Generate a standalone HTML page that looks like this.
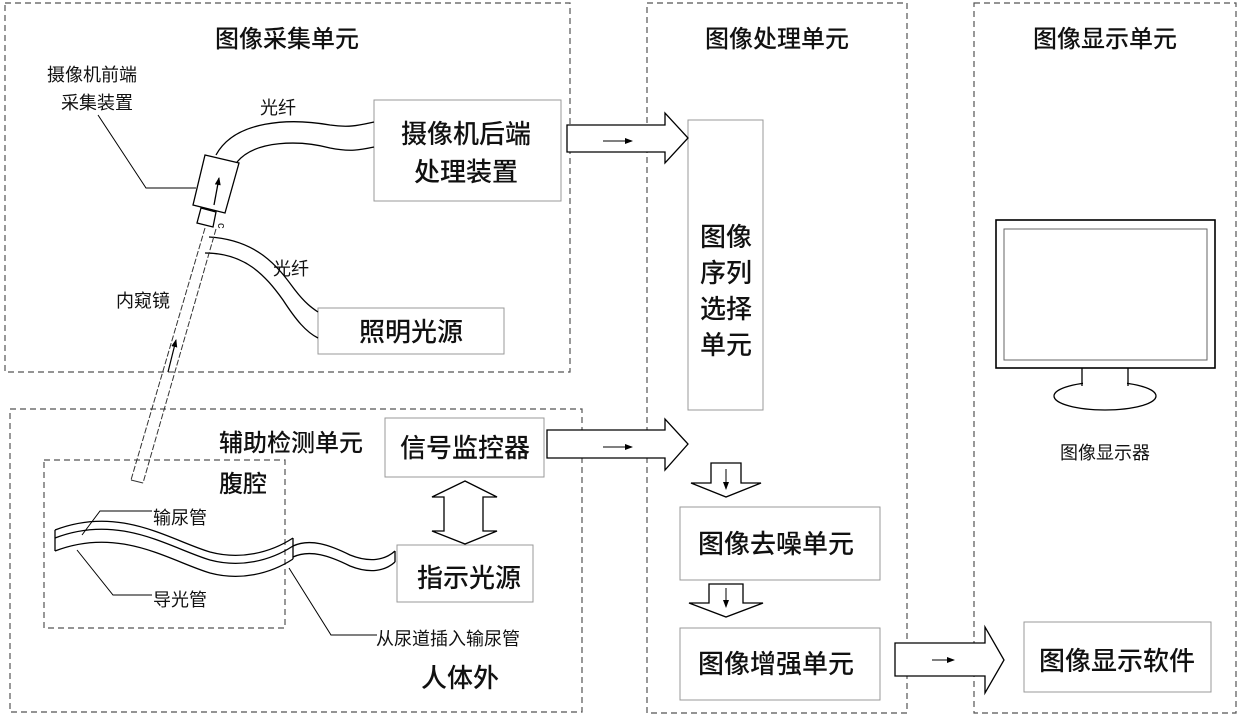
<!DOCTYPE html>
<html><head><meta charset="utf-8"><style>
html,body{margin:0;padding:0;background:#fff;}
svg{display:block;}
text{font-family:"Liberation Sans","Noto Sans CJK SC",sans-serif;fill:#111;}
</style></head><body>
<svg width="1240" height="719" viewBox="0 0 1240 719" xmlns="http://www.w3.org/2000/svg">
<defs>
<marker id="ah" markerWidth="8" markerHeight="6" refX="7" refY="3" orient="auto" markerUnits="userSpaceOnUse"><path d="M0,0 L8,3 L0,6 z" fill="#000"/></marker>
</defs>
<g fill="none" stroke="#555" stroke-width="1.2" stroke-dasharray="6,4">
<rect x="5" y="3" width="565" height="369"/>
<rect x="647" y="3" width="260" height="710"/>
<rect x="974" y="3" width="262" height="710"/>
<rect x="10" y="409" width="572" height="303"/>
<rect x="44" y="460" width="241" height="168"/>
</g>
<g font-size="24" text-anchor="middle" font-weight="500">
<text x="287" y="47">图像采集单元</text>
<text x="777" y="47">图像处理单元</text>
<text x="1105" y="47">图像显示单元</text>
<text x="291" y="451">辅助检测单元</text>
<text x="243" y="492">腹腔</text>
</g>
<g fill="none" stroke="#999" stroke-width="1">
<rect x="374" y="100" width="187" height="101"/>
<rect x="318" y="308" width="186" height="46"/>
<rect x="688" y="120" width="75" height="290"/>
<rect x="680" y="507" width="200" height="73"/>
<rect x="680" y="628" width="200" height="72"/>
<rect x="385" y="418" width="159" height="59"/>
<rect x="397" y="545" width="136" height="57"/>
<rect x="1024" y="622" width="187" height="70"/>
</g>
<g font-size="26" text-anchor="middle" font-weight="500">
<text x="466" y="143">摄像机后端</text>
<text x="466" y="181">处理装置</text>
<text x="411" y="341">照明光源</text>
<text x="726" y="246">图像</text>
<text x="726" y="282">序列</text>
<text x="726" y="318">选择</text>
<text x="726" y="354">单元</text>
<text x="776" y="553">图像去噪单元</text>
<text x="776" y="673">图像增强单元</text>
<text x="465" y="457">信号监控器</text>
<text x="469" y="587">指示光源</text>
<text x="1117" y="670">图像显示软件</text>
<text x="460" y="687">人体外</text>
</g>
<g font-size="18">
<text x="47" y="81">摄像机前端</text>
<text x="61" y="109">采集装置</text>
<text x="260" y="114">光纤</text>
<text x="273" y="275">光纤</text>
<text x="116" y="307">内窥镜</text>
<text x="153" y="524">输尿管</text>
<text x="153" y="606">导光管</text>
<text x="376" y="645">从尿道插入输尿管</text>
<text x="1105" y="459" text-anchor="middle">图像显示器</text>
</g>
<g fill="none" stroke="#000" stroke-width="1.3">
<polygon points="205,155 239,163 225,213 193,205" fill="#fff"/>
<polygon points="201,208 216,212 213,227 197,223" fill="#fff"/>
<line x1="214" y1="205" x2="219" y2="178" marker-end="url(#ah)"/>
<path d="M216,155 C235,120 290,118 330,125 C350,128 360,125 374,122"/>
<path d="M237,162 C255,140 300,140 330,148 C350,152 360,150 374,147"/>
<path d="M209,237 C260,240 280,270 295,290 C305,303 312,308 318,312"/>
<path d="M205,253 C245,253 265,275 283,300 C296,320 306,332 318,338"/>
<polyline points="98,115 146,188 196,188" stroke-width="1"/>
</g>
<text x="220" y="229" font-size="11" transform="rotate(90 222 225)">c</text>
<g fill="none" stroke="#333" stroke-width="1" stroke-dasharray="6,2">
<line x1="205" y1="228" x2="131" y2="480"/>
<line x1="216" y1="229" x2="143" y2="483"/>
</g>
<line x1="131" y1="480" x2="143" y2="483" stroke="#333"/>
<line x1="168" y1="372" x2="176" y2="340" stroke="#000" stroke-width="1.2" marker-end="url(#ah)"/>
<g fill="none" stroke="#000" stroke-width="1.3">
<path d="M55,530 C120,505 170,540 210,552 C240,560 270,553 293,538"/>
<path d="M55,538 C120,513 170,548 210,560 C240,568 270,561 293,546"/>
<path d="M55,551 C120,526 170,561 210,573 C240,581 270,574 293,559"/>
<line x1="55" y1="530" x2="55" y2="551"/>
<line x1="293" y1="538" x2="293" y2="559"/>
<path d="M293,546 C310,538 330,545 350,555 C370,563 385,560 395,551"/>
<path d="M293,557 C310,549 330,556 350,566 C370,574 385,571 395,562"/>
<line x1="395" y1="551" x2="395" y2="562"/>
</g>
<g fill="none" stroke="#000" stroke-width="1">
<polyline points="152,511 100,511 82,535"/>
<polyline points="152,595 113,595 77,550"/>
<polyline points="377,635 331,635 289,568"/>
</g>
<g fill="#fff" stroke="#000" stroke-width="1.3">
<polygon points="567,125 665,125 665,113 688,138 665,163 665,152 567,152"/>
<polygon points="547,430 665,430 665,419 688,444 665,470 665,458 547,458"/>
<polygon points="895,643 985,643 985,627 1004,660 985,693 985,676 895,676"/>
<polygon points="711,463 741,463 741,483 761,483 726,497 691,483 711,483"/>
<polygon points="709,584 743,584 743,603 763,603 726,617 689,603 709,603"/>
<polygon points="465,481 497,497 483,497 483,531 497,531 465,544 432,531 444,531 444,497 432,497"/>
</g>
<g stroke="#000" stroke-width="1" marker-end="url(#ah)">
<line x1="603" y1="141" x2="632" y2="141"/>
<line x1="603" y1="447" x2="632" y2="447"/>
<line x1="932" y1="660" x2="954" y2="660"/>
<line x1="726" y1="469" x2="726" y2="489"/>
<line x1="726" y1="588" x2="726" y2="607"/>
</g>
<g fill="#fff" stroke="#000">
<rect x="996" y="220" width="219" height="148" stroke-width="1.6"/>
<rect x="1004" y="229" width="203" height="131" stroke="#666" stroke-width="1"/>
<ellipse cx="1105" cy="396" rx="51" ry="14" stroke-width="1.3"/>
</g>
<rect x="1083" y="369" width="44" height="18" fill="#fff"/>
<path d="M1082,368 L1082,386 M1128,368 L1128,386" stroke="#000" stroke-width="1.3"/>
</svg>
</body></html>
